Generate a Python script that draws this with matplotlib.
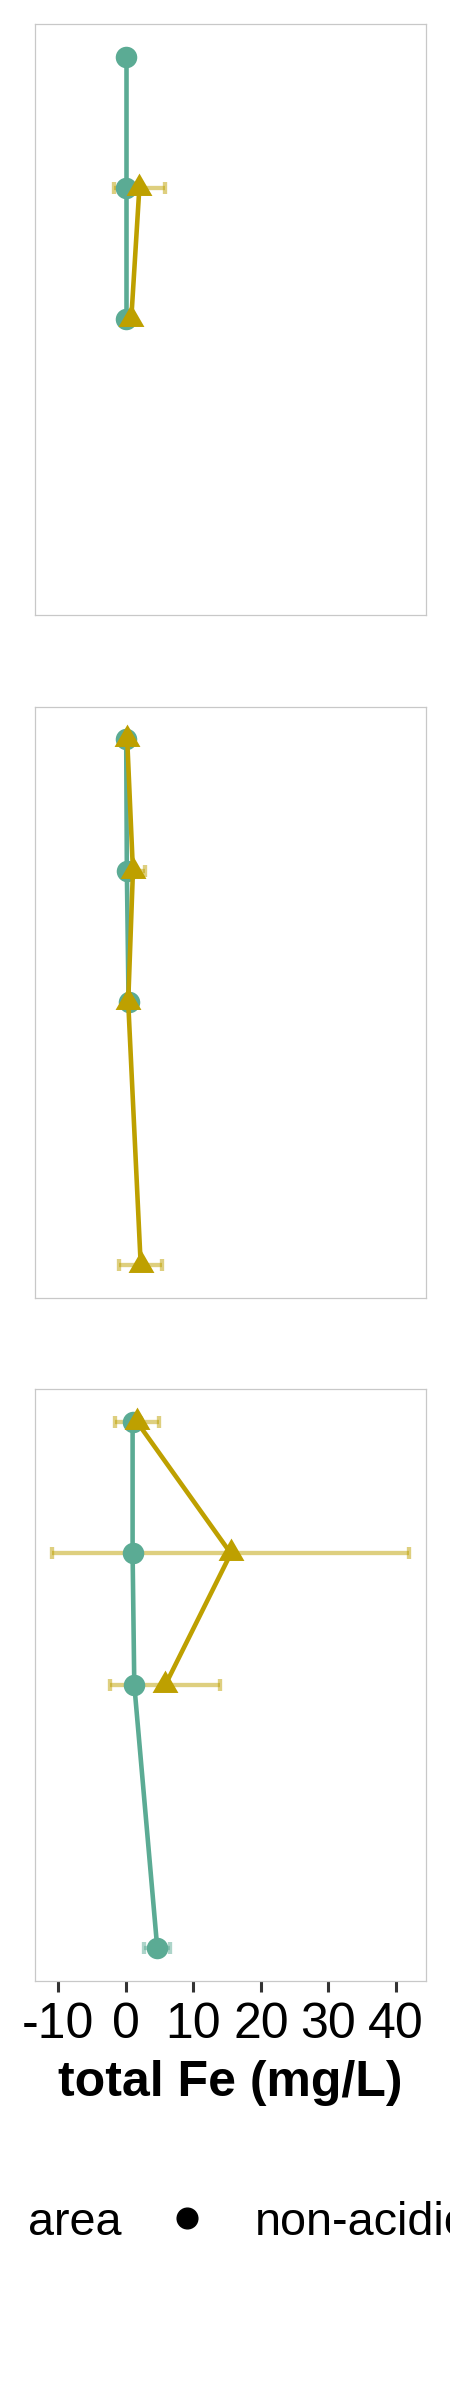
import matplotlib
matplotlib.use("Agg")
import matplotlib.pyplot as plt
from matplotlib.lines import Line2D

plt.rcParams['font.family'] = ['Liberation Sans', 'DejaVu Sans']

# colours for the two areas
teal = '#5bab94'
gold = '#bea000'

# panel 1
p1_non_depth = [0, 1, 2]
p1_non_fe = [0.05, 0.05, 0.05]
p1_non_sd = [0.0, 0.0, 0.0]
p1_acid_depth = [1, 2]
p1_acid_fe = [2.0, 0.8]
p1_acid_sd = [3.8, 0.3]

# panel 2
p2_non_depth = [0, 1, 2]
p2_non_fe = [0.05, 0.15, 0.4]
p2_non_sd = [0.1, 0.3, 0.3]
p2_acid_depth = [0, 1, 2, 4]
p2_acid_fe = [0.2, 1.05, 0.35, 2.2]
p2_acid_sd = [0.2, 1.8, 0.4, 3.2]

# panel 3
p3_non_depth = [0, 1, 2, 4]
p3_non_fe = [1.0, 1.0, 1.25, 4.65]
p3_non_sd = [0.2, 0.2, 0.2, 1.9]
p3_acid_depth = [0, 1, 2]
p3_acid_fe = [1.65, 15.55, 5.85]
p3_acid_sd = [3.25, 26.45, 8.15]

xticks = [-10, 0, 10, 20, 30, 40]

panels = [
    (p1_non_depth, p1_non_fe, p1_non_sd, p1_acid_depth, p1_acid_fe, p1_acid_sd),
    (p2_non_depth, p2_non_fe, p2_non_sd, p2_acid_depth, p2_acid_fe, p2_acid_sd),
    (p3_non_depth, p3_non_fe, p3_non_sd, p3_acid_depth, p3_acid_fe, p3_acid_sd),
]
# axes boxes in pixels (top, bottom)
boxes = [(23.7, 614.9), (706.5, 1297.6), (1389.1, 1980.7)]

# equilateral triangle, like ggplot shape 17
tri = [(-0.5, -0.2887), (0.5, -0.2887), (0, 0.5774)]

W, H = 450, 2400
fig = plt.figure(figsize=(4.5, 24), dpi=100)
left, right = 34.7, 426.3

for i, (nd, nf, ns, ad, af, asd) in enumerate(panels):
    top, bot = boxes[i]
    ax = fig.add_axes([left / W, 1 - bot / H, (right - left) / W, (bot - top) / H])
    for x, y, s, c in [(nf, nd, ns, teal), (af, ad, asd, gold)]:
        ax.errorbar(x, y, xerr=s, fmt='none', ecolor=c, alpha=0.5, elinewidth=3.1,
                    capsize=4.3, capthick=3.1, zorder=1)
    ax.plot(nf, nd, color=teal, lw=3.3, zorder=2)
    ax.plot(nf, nd, 'o', color=teal, ms=15.5, mec='none', zorder=3)
    ax.plot(af, ad, color=gold, lw=3.3, zorder=4)
    ax.plot(af, ad, marker=tri, ls='none', color=gold, ms=21.5, mec='none', zorder=5)
    ax.set_xlim(-13.5, 44.5)
    ax.set_ylim(4.25, -0.25)
    ax.set_yticks([])
    for sp in ax.spines.values():
        sp.set_color('#c8c8c8')
        sp.set_linewidth(0.9)
    if i < 2:
        ax.set_xticks([])
    else:
        ax.set_xticks(xticks)
        ax.set_xticklabels([str(t) for t in xticks])
        ax.tick_params(axis='x', length=8, width=2.2, color='#333333', pad=7,
                       labelsize=36, labelcolor='black')
        ax.set_xlabel('total Fe (mg/L)', fontsize=36, fontweight='bold')
        ax.xaxis.label.set_verticalalignment('baseline')
        ax.xaxis.set_label_coords(0.5, -(2096 - bot) / (bot - top))

# legend along the bottom, running off the right edge like the original
fig.text(27.7 / W, 1 - 2235 / H, 'area', fontsize=33.7, ha='left', va='baseline')
fig.add_artist(Line2D([186.7 / W], [1 - 2218.3 / H], marker='o', ls='none', color='black',
                      ms=14.9, transform=fig.transFigure))
fig.text(255 / W, 1 - 2235 / H, 'non-acidic', fontsize=33.7, ha='left', va='baseline')

fig.savefig('out.png', dpi=100)
